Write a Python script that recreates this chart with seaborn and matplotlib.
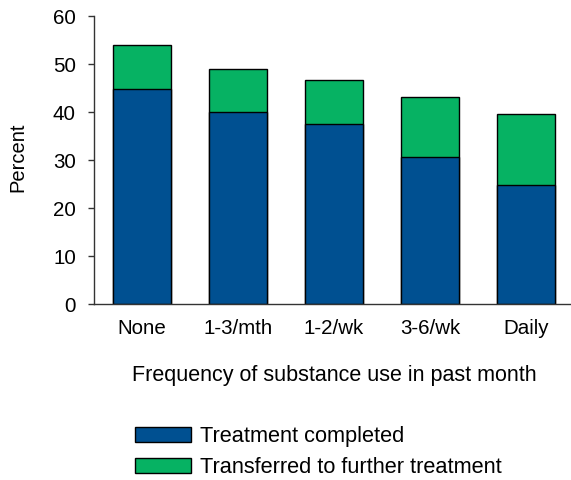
import matplotlib
matplotlib.use("Agg")
import matplotlib.pyplot as plt
import seaborn as sns
import pandas as pd
from matplotlib.patches import Patch

categories = ["None", "1-3/mth", "1-2/wk", "3-6/wk", "Daily"]
completed = [44.7, 39.9, 37.6, 30.6, 24.8]
transferred = [9.2, 9.0, 9.1, 12.6, 14.8]
series_names = ["Treatment completed", "Transferred to further treatment"]
yticks = [0, 10, 20, 30, 40, 50, 60]

BLUE = "#005091"
GREEN = "#06B263"

sns.set_theme(style="white")
plt.rcParams["font.family"] = ["Liberation Sans", "DejaVu Sans"]
plt.rcParams["text.color"] = "black"

df = pd.DataFrame({
    "cat": categories,
    "completed": completed,
    "total": [c + t for c, t in zip(completed, transferred)],
})

fig = plt.figure(figsize=(5.71, 4.8), dpi=100)
ax = fig.add_axes([94 / 571, 176 / 480, 477 / 571, 288 / 480])

sns.barplot(data=df, x="cat", y="total", color=GREEN, saturation=1,
            width=0.6, edgecolor="black", linewidth=1.0, ax=ax)
sns.barplot(data=df, x="cat", y="completed", color=BLUE, saturation=1,
            width=0.6, edgecolor="black", linewidth=1.0, ax=ax)

ax.set_xlim(-0.5, 4.47)
ax.set_ylim(0, 60)
ax.set_yticks(yticks)
ax.set_xlabel("")
ax.set_ylabel("")
for s in ["top", "right"]:
    ax.spines[s].set_visible(False)
for s in ["left", "bottom"]:
    ax.spines[s].set_color("#333333")
    ax.spines[s].set_linewidth(1.0)
ax.tick_params(axis="y", direction="out", length=4, width=1, color="#333333",
               pad=9, labelsize=14.8, left=True)
ax.tick_params(axis="x", length=0, pad=11, labelsize=14.8)
for lab in ax.get_xticklabels() + ax.get_yticklabels():
    lab.set_color("black")

fig.text(18 / 571, 1 - 157 / 480, "Percent", rotation=90, ha="center",
         va="center", fontsize=14.5, color="black")
fig.text(334 / 571, 1 - 376 / 480, "Frequency of substance use in past month",
         ha="center", va="center", fontsize=15.5, color="black")

handles = [Patch(facecolor=BLUE, edgecolor="black", linewidth=1.0),
           Patch(facecolor=GREEN, edgecolor="black", linewidth=1.0)]
leg = fig.legend(handles, series_names, loc="center left",
                 bbox_to_anchor=(135 / 571, 1 - 452 / 480), frameon=False,
                 fontsize=15.7, handlelength=2.55, handleheight=0.7,
                 handletextpad=0.45, labelspacing=0.45, borderpad=0,
                 borderaxespad=0)
for t in leg.get_texts():
    t.set_color("black")

fig.savefig("out.png", dpi=100)
